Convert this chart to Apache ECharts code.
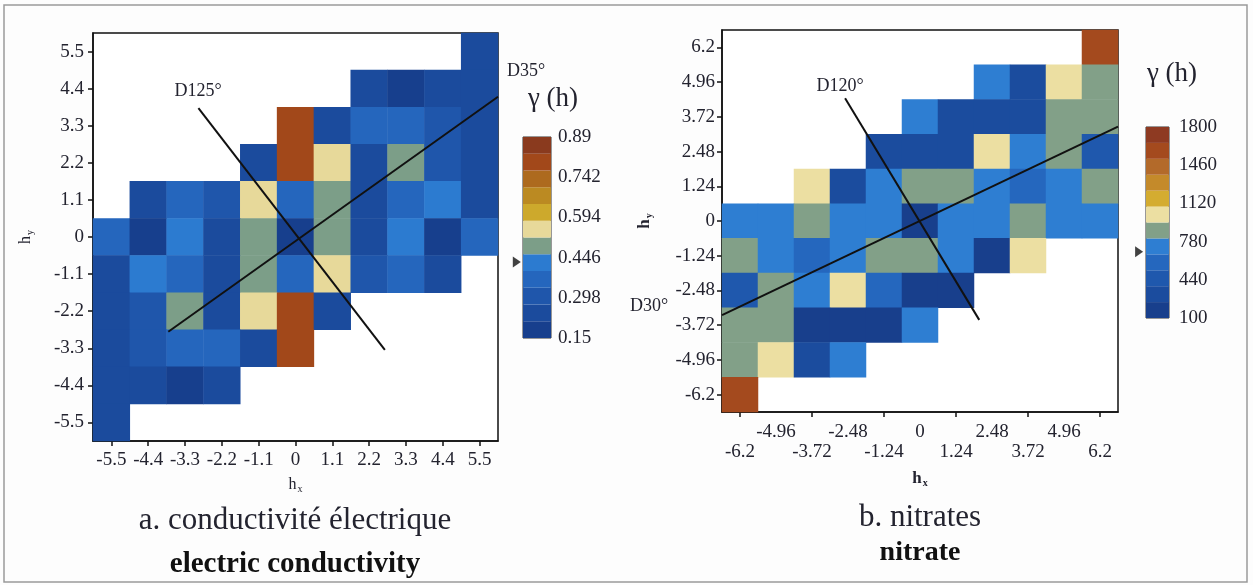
<!DOCTYPE html>
<html><head><meta charset="utf-8">
<script src="https://cdn.jsdelivr.net/npm/echarts@6.0.0/dist/echarts.min.js"></script>
<style>html,body{margin:0;padding:0;background:#fdfdfd}#c{width:1253px;height:585px}</style>
</head><body><div id="c"></div>
<script>
// ---------- data ----------
const leftTicks = ['-5.5','-4.4','-3.3','-2.2','-1.1','0','1.1','2.2','3.3','4.4','5.5'];
const rightTicks = ['-6.2','-4.96','-3.72','-2.48','-1.24','0','1.24','2.48','3.72','4.96','6.2'];
const _ = null;
// rows listed from top (highest h_y) to bottom; columns from lowest h_x to highest
const leftRows = [
  [_,_,_,_,_,_,_,_,_,_,0.25],
  [_,_,_,_,_,_,_,0.25,0.19,0.25,0.25],
  [_,_,_,_,_,0.81,0.25,0.36,0.36,0.30,0.25],
  [_,_,_,_,0.25,0.79,0.55,0.25,0.49,0.28,0.25],
  [_,0.22,0.37,0.28,0.55,0.36,0.48,0.25,0.36,0.43,0.25],
  [0.36,0.19,0.43,0.27,0.48,0.19,0.48,0.27,0.43,0.19,0.36],
  [0.25,0.43,0.36,0.25,0.48,0.36,0.55,0.28,0.37,0.22,_],
  [0.25,0.28,0.49,0.25,0.55,0.79,0.25,_,_,_,_],
  [0.25,0.30,0.36,0.36,0.25,0.81,_,_,_,_,_],
  [0.25,0.25,0.19,0.25,_,_,_,_,_,_,_],
  [0.25,_,_,_,_,_,_,_,_,_,_]
];
const rightRows = [
  [_,_,_,_,_,_,_,_,_,_,1620],
  [_,_,_,_,_,_,_,740,380,1020,880],
  [_,_,_,_,_,740,300,300,300,880,880],
  [_,_,_,_,280,280,280,1020,720,880,450],
  [_,_,1020,320,740,880,880,740,560,740,880],
  [740,740,880,740,740,200,740,740,880,740,740],
  [880,740,560,740,880,880,740,230,1020,_,_],
  [450,880,720,1020,560,230,230,_,_,_,_],
  [880,880,230,230,230,740,_,_,_,_,_],
  [880,1020,380,740,_,_,_,_,_,_,_],
  [1620,_,_,_,_,_,_,_,_,_,_]
];
const leftLegendTicks = [0.15, 0.298, 0.446, 0.594, 0.742, 0.89];
const rightLegendTicks = [100, 440, 780, 1120, 1460, 1800];
const leftBandColors = ['#173f8d','#1b4b9d','#1f56ab','#2566bd','#2c7bd0','#7c9e88','#e7d99a','#cda92c','#bb8a22','#ad6a1e','#a2481a','#8a3a1e'];
const rightBandColors = ['#183f8c','#1b4c9e','#1f58ad','#2567be','#2e7ed2','#82a088','#ecdfa2','#d4ac30','#c48a2a','#b36a2a','#a44a1e','#8e3a22'];
const leftSill = 0.43;
const rightSill = 690;
// direction lines (h_x, h_y)
const leftD35 = [[-3.80,-2.81],[6.05,4.16]];
const leftD125 = [[-2.90,3.82],[2.67,-3.35]];
const rightD30 = [[-6.82,-3.36],[6.82,3.37]];
const rightD120 = [[-2.58,4.38],[2.04,-3.53]];

// ---------- helpers ----------
function toCells(rows){
  const out=[];
  rows.forEach((row,r)=>row.forEach((v,c)=>{ if(v!=null) out.push([c, rows.length-1-r, v]); }));
  return out;
}
function bands(ticks, colors){
  const lo=ticks[0], hi=ticks[ticks.length-1], n=colors.length, step=(hi-lo)/n;
  return colors.map((col,i)=>({lo: lo+i*step, hi: lo+(i+1)*step, color: col}));
}
const lb = bands(leftLegendTicks, leftBandColors);
const rb = bands(rightLegendTicks, rightBandColors);
const pieces = b => b.map((p,i)=> i===b.length-1 ? {gte:p.lo, lte:p.hi, color:p.color} : {gte:p.lo, lt:p.hi, color:p.color});

const SERIF = "'Liberation Serif','DejaVu Serif',serif";
const TXT = '#23232f';
const axisCommon = {
  axisLine:{show:true, lineStyle:{color:'#111', width:1.5}},
  axisTick:{show:true, alignWithLabel:true, length:5, lineStyle:{color:'#111', width:1.5}},
  splitLine:{show:false}
};
const lbl = (extra) => Object.assign({interval:0, fontFamily:SERIF, fontSize:19, color:TXT}, extra||{});
const subName = (s, bold) => ({
  fontFamily:SERIF, color:TXT,
  rich:{
    h:{fontFamily:SERIF, fontSize:bold?17:16, fontWeight:bold?'bold':'normal', color:TXT},
    s:{fontFamily:SERIF, fontSize:10, fontWeight:bold?'bold':'normal', color:TXT, padding:[9,0,0,1]}
  }
});
function cbRender(b){
  return function(params, api){
    const lo=api.value(0), hi=api.value(1);
    const pTop=api.coord([0,hi]), pBot=api.coord([1,lo]);
    return {type:'rect', shape:{x:pTop[0], y:pTop[1], width:pBot[0]-pTop[0], height:pBot[1]-pTop[1]},
            style:{fill:b[params.dataIndex].color}};
  };
}
const lineSeries = (data, xi, yi) => ({type:'line', data, xAxisIndex:xi, yAxisIndex:yi, symbol:'none', silent:true,
  lineStyle:{color:'#111', width:2}, z:10, animation:false});

const LG = {left:93, top:33, width:405, height:408};
const RG = {left:722, top:30, width:396, height:382};
const LCB = {left:523, top:137, width:28, height:201};
const RCB = {left:1146, top:127, width:23, height:191};

const chart = echarts.init(document.getElementById('c'), null, {renderer:'canvas'});
const option = {
  animation:false,
  backgroundColor:'#fdfdfd',
  grid:[
    Object.assign({show:true, borderColor:'#111', borderWidth:1.5, backgroundColor:'#fff'}, LG),
    Object.assign({}, LG),
    Object.assign({show:true, borderColor:'#111', borderWidth:1.5, backgroundColor:'#fff'}, RG),
    Object.assign({}, RG),
    Object.assign({show:true, borderColor:'#333', borderWidth:1}, LCB),
    Object.assign({show:true, borderColor:'#333', borderWidth:1}, RCB)
  ],
  xAxis:[
    Object.assign({type:'category', gridIndex:0, data:leftTicks, position:'bottom',
      axisLabel:lbl({margin:10}), name:'{h|h}{s|x}', nameLocation:'middle', nameGap:34, nameTextStyle:subName('x',false)}, axisCommon),
    {type:'value', gridIndex:1, min:-6.05, max:6.05, show:false},
    Object.assign({type:'category', gridIndex:2, data:rightTicks, position:'bottom',
      axisLabel:lbl({margin:31, interval:(i)=>i%2===0}), name:'{h|h}{s|x}', nameLocation:'middle', nameGap:57, nameTextStyle:subName('x',true)}, axisCommon),
    {type:'category', gridIndex:2, data:rightTicks, position:'bottom', axisLine:{show:false}, axisTick:{show:false},
      axisLabel:lbl({margin:11, interval:(i)=>i%2===1})},
    {type:'value', gridIndex:3, min:-6.82, max:6.82, show:false},
    {type:'value', gridIndex:4, min:0, max:1, show:false},
    {type:'value', gridIndex:5, min:0, max:1, show:false}
  ],
  yAxis:[
    Object.assign({type:'category', gridIndex:0, data:leftTicks, position:'left',
      axisLabel:lbl({margin:9}), name:'{h|h}{s|y}', nameLocation:'middle', nameGap:58, nameTextStyle:subName('y',false)}, axisCommon),
    {type:'value', gridIndex:1, min:-6.05, max:6.05, show:false},
    Object.assign({type:'category', gridIndex:2, data:rightTicks, position:'left',
      axisLabel:lbl({margin:7}), name:'{h|h}{s|y}', nameLocation:'middle', nameGap:68, nameTextStyle:subName('y',true)}, axisCommon),
    {type:'value', gridIndex:3, min:-6.82, max:6.82, show:false},
    {type:'value', gridIndex:4, position:'right', min:leftLegendTicks[0], max:leftLegendTicks[leftLegendTicks.length-1],
      axisLine:{show:false}, axisTick:{show:false}, splitLine:{show:false},
      axisLabel:{customValues:leftLegendTicks, margin:7, fontFamily:SERIF, fontSize:19, color:TXT, formatter:v=>String(v)}},
    {type:'value', gridIndex:5, position:'right', min:rightLegendTicks[0], max:rightLegendTicks[rightLegendTicks.length-1],
      axisLine:{show:false}, axisTick:{show:false}, splitLine:{show:false},
      axisLabel:{customValues:rightLegendTicks, margin:10, fontFamily:SERIF, fontSize:19, color:TXT, formatter:v=>String(v)}}
  ],
  visualMap:[
    {type:'piecewise', show:false, seriesIndex:0, pieces:pieces(lb)},
    {type:'piecewise', show:false, seriesIndex:1, pieces:pieces(rb)}
  ],
  series:[
    {type:'heatmap', xAxisIndex:0, yAxisIndex:0, data:toCells(leftRows), silent:true},
    {type:'heatmap', xAxisIndex:2, yAxisIndex:2, data:toCells(rightRows), silent:true},
    lineSeries(leftD35,1,1), lineSeries(leftD125,1,1),
    lineSeries(rightD30,4,3), lineSeries(rightD120,4,3),
    {type:'custom', xAxisIndex:5, yAxisIndex:4, data:lb.map(b=>[b.lo,b.hi]), renderItem:cbRender(lb), silent:true},
    {type:'custom', xAxisIndex:6, yAxisIndex:5, data:rb.map(b=>[b.lo,b.hi]), renderItem:cbRender(rb), silent:true},
    {type:'scatter', xAxisIndex:5, yAxisIndex:4, data:[[-0.22, leftSill]], symbol:'triangle', symbolRotate:-90, symbolSize:[11,8], clip:false, itemStyle:{color:'#111'}, silent:true, z:10},
    {type:'scatter', xAxisIndex:6, yAxisIndex:5, data:[[-0.3, rightSill]], symbol:'triangle', symbolRotate:-90, symbolSize:[11,8], clip:false, itemStyle:{color:'#111'}, silent:true, z:10}
  ],
  graphic:[
    {type:'rect', shape:{x:4, y:5, width:1243, height:577}, style:{fill:'transparent', stroke:'#9a9a9a', lineWidth:1.5}, z:-1, silent:true},
    {type:'text', x:198, y:91, style:{text:'D125°', font:'18px '+SERIF, fill:TXT, align:'center', verticalAlign:'middle'}},
    {type:'text', x:526, y:71, style:{text:'D35°', font:'18px '+SERIF, fill:TXT, align:'center', verticalAlign:'middle'}},
    {type:'text', x:840, y:86, style:{text:'D120°', font:'18px '+SERIF, fill:TXT, align:'center', verticalAlign:'middle'}},
    {type:'text', x:649, y:306, style:{text:'D30°', font:'18px '+SERIF, fill:TXT, align:'center', verticalAlign:'middle'}},
    {type:'text', x:553, y:99, style:{text:'γ (h)', font:'27px '+SERIF, fill:TXT, align:'center', verticalAlign:'middle'}},
    {type:'text', x:1172, y:74, style:{text:'γ (h)', font:'27px '+SERIF, fill:TXT, align:'center', verticalAlign:'middle'}},
    {type:'text', x:295, y:521, style:{text:'a. conductivité électrique', font:'31px '+SERIF, fill:TXT, align:'center', verticalAlign:'middle'}},
    {type:'text', x:295, y:565, style:{text:'electric conductivity', font:'bold 29px '+SERIF, fill:'#111', align:'center', verticalAlign:'middle'}},
    {type:'text', x:920, y:518, style:{text:'b. nitrates', font:'31px '+SERIF, fill:TXT, align:'center', verticalAlign:'middle'}},
    {type:'text', x:920, y:553, style:{text:'nitrate', font:'bold 28px '+SERIF, fill:'#111', align:'center', verticalAlign:'middle'}}
  ]
};
chart.setOption(option);
</script></body></html>
